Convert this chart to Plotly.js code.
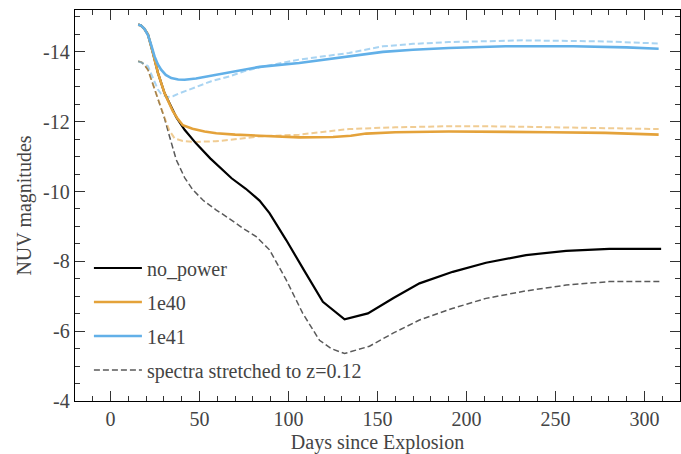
<!DOCTYPE html>
<html>
<head>
<meta charset="utf-8">
<script src="https://cdn.plot.ly/plotly-3.0.1.min.js"></script>
<style>html,body{margin:0;padding:0;background:#fff;}#chart{width:681px;height:454px;}</style>
</head>
<body>
<div id="chart"></div>
<script>
// no_power (solid black)
const days_np = [15.5, 17, 19, 21, 23.8, 26.6, 30.3, 34.1, 37, 41.6, 48, 56, 68, 76, 83.7, 89.3, 98.7, 109, 119.3, 131.5, 144.6, 159, 173.6, 192.3, 211, 233.5, 256, 280.3, 309.4];
const mag_np = [-14.78, -14.76, -14.66, -14.50, -13.97, -13.40, -12.82, -12.44, -12.12, -11.77, -11.38, -10.95, -10.38, -10.08, -9.74, -9.38, -8.61, -7.72, -6.84, -6.34, -6.51, -6.95, -7.37, -7.70, -7.96, -8.18, -8.30, -8.36, -8.36];

// 1e40 (solid orange)
const days_40 = [15.5, 17, 19, 21, 23.8, 26.6, 30.3, 33, 35, 37.5, 40.6, 46, 52.8, 59.4, 70, 83.7, 106, 125, 135, 143.6, 160, 190, 213, 246.6, 278, 308];
const mag_40 = [-14.78, -14.76, -14.66, -14.50, -13.97, -13.40, -12.82, -12.50, -12.30, -12.10, -11.90, -11.80, -11.72, -11.67, -11.63, -11.60, -11.55, -11.56, -11.60, -11.66, -11.70, -11.72, -11.72, -11.70, -11.68, -11.63];

// 1e41 (solid blue)
const days_41 = [15.5, 17, 19, 21, 22.8, 24.7, 26.6, 28.4, 31, 34.1, 38, 41.6, 48, 60.3, 75.3, 83.7, 106, 132, 153, 170, 190, 222, 260, 290, 308];
const mag_41 = [-14.78, -14.76, -14.66, -14.48, -14.20, -13.87, -13.64, -13.49, -13.34, -13.25, -13.21, -13.20, -13.24, -13.35, -13.49, -13.57, -13.68, -13.85, -14.00, -14.06, -14.11, -14.16, -14.16, -14.13, -14.09];

// spectra stretched to z=0.12 : no_power (gray dashed)
const days_znp = [15.5, 17.5, 19.1, 21, 22.8, 24.7, 26.5, 28.4, 30.3, 33, 36.9, 41.6, 46.2, 52, 59.4, 66.9, 74.3, 81.8, 89.3, 98.7, 108, 117.4, 124, 131.5, 145.5, 159, 173.6, 192, 211, 233, 256, 280, 309];
const mag_znp = [-13.73, -13.70, -13.62, -13.49, -13.22, -12.92, -12.65, -12.40, -12.10, -11.60, -10.91, -10.40, -10.05, -9.75, -9.47, -9.22, -8.95, -8.71, -8.33, -7.47, -6.51, -5.74, -5.50, -5.36, -5.57, -5.95, -6.32, -6.65, -6.94, -7.15, -7.32, -7.42, -7.42];

// spectra stretched : 1e40 (light orange dashed)
const days_z40 = [15.5, 17.5, 19.1, 21, 22.8, 24.7, 26.5, 28.4, 30.3, 33, 36, 40.6, 46.2, 51.9, 59, 66.9, 83.7, 106, 120, 134, 160, 190, 213, 260, 308];
const mag_z40 = [-13.73, -13.70, -13.62, -13.49, -13.22, -12.92, -12.65, -12.40, -12.12, -11.75, -11.52, -11.45, -11.42, -11.42, -11.44, -11.48, -11.58, -11.63, -11.70, -11.79, -11.84, -11.87, -11.87, -11.82, -11.79];

// spectra stretched : 1e41 (light blue dashed)
const days_z41 = [15.5, 17.5, 19.1, 21, 23, 24.7, 26.6, 28.4, 30.3, 32.2, 35, 38, 41.6, 48, 56.6, 67, 75.3, 83.7, 106, 134, 153, 170, 190, 231.6, 278, 308];
const mag_z41 = [-13.73, -13.70, -13.66, -13.59, -13.35, -13.12, -12.92, -12.80, -12.74, -12.71, -12.73, -12.80, -12.87, -13.01, -13.16, -13.30, -13.45, -13.56, -13.78, -13.97, -14.16, -14.23, -14.28, -14.33, -14.30, -14.24];

const legend_names = ['no_power', '1e40', '1e41', 'spectra stretched to z=0.12'];
const ytick_vals = [-14, -12, -10, -8, -6, -4];
const ytick_text = ['-14', '-12', '-10', '-8', '-6', '-4'];
const xtick_vals = [0, 50, 100, 150, 200, 250, 300];
const xtick_text = ['0', '50', '100', '150', '200', '250', '300'];

const ORANGE = '#E4A23A';
const BLUE = '#62B0E8';
const FONT = 'Liberation Serif';

const traces = [
  {x: days_znp, y: mag_znp, mode: 'lines', name: legend_names[3], legendrank: 4, legendgroup: 'd',
   line: {color: '#5a5a5a', width: 1.5, dash: '6px,3px'}},
  {x: days_z40, y: mag_z40, mode: 'lines', showlegend: false, opacity: 0.55,
   line: {color: ORANGE, width: 2, dash: '6px,3px'}},
  {x: days_z41, y: mag_z41, mode: 'lines', showlegend: false, opacity: 0.55,
   line: {color: BLUE, width: 2, dash: '6px,3px'}},
  {x: days_np, y: mag_np, mode: 'lines', name: legend_names[0], legendrank: 1, legendgroup: 'a',
   line: {color: '#000000', width: 2.2}},
  {x: days_40, y: mag_40, mode: 'lines', name: legend_names[1], legendrank: 2, legendgroup: 'b',
   line: {color: ORANGE, width: 2.6}},
  {x: days_41, y: mag_41, mode: 'lines', name: legend_names[2], legendrank: 3, legendgroup: 'c',
   line: {color: BLUE, width: 2.6}}
];

const layout = {
  width: 681, height: 454,
  margin: {l: 75, r: 1, t: 10, b: 53},
  paper_bgcolor: '#fff', plot_bgcolor: '#fff',
  showlegend: true,
  legend: {x: 0.023, y: 0.39, xanchor: 'left', yanchor: 'top', bgcolor: 'rgba(0,0,0,0)',
           font: {family: FONT, size: 20}, traceorder: 'grouped', tracegroupgap: 5, itemwidth: 48},
  xaxis: {
    showgrid: false, zeroline: false, showline: true, linecolor: '#000', linewidth: 1.3,
    mirror: 'allticks', ticks: 'inside', ticklen: 10, tickwidth: 1.1, tickcolor: '#333',
    tickfont: {family: FONT, size: 20},
    range: [-20, 320], tickmode: 'array', tickvals: xtick_vals, ticktext: xtick_text,
    minor: {tickmode: 'linear', tick0: 0, dtick: 10, ticks: 'inside', ticklen: 5, tickwidth: 1, tickcolor: '#333'},
    title: {text: 'Days since Explosion', font: {family: FONT, size: 20}, standoff: 8}
  },
  yaxis: {
    showgrid: false, zeroline: false, showline: true, linecolor: '#000', linewidth: 1.3,
    mirror: 'allticks', ticks: 'inside', ticklen: 10, tickwidth: 1.1, tickcolor: '#333',
    tickfont: {family: FONT, size: 20},
    range: [-4, -15.2], tickmode: 'array', tickvals: ytick_vals, ticktext: ytick_text,
    minor: {tickmode: 'linear', tick0: 0, dtick: 0.5, ticks: 'inside', ticklen: 5, tickwidth: 1, tickcolor: '#333'},
    title: {text: 'NUV magnitudes', font: {family: FONT, size: 20}, standoff: 6}
  }
};

Plotly.newPlot('chart', traces, layout, {staticPlot: true, displayModeBar: false});
</script>
</body>
</html>
